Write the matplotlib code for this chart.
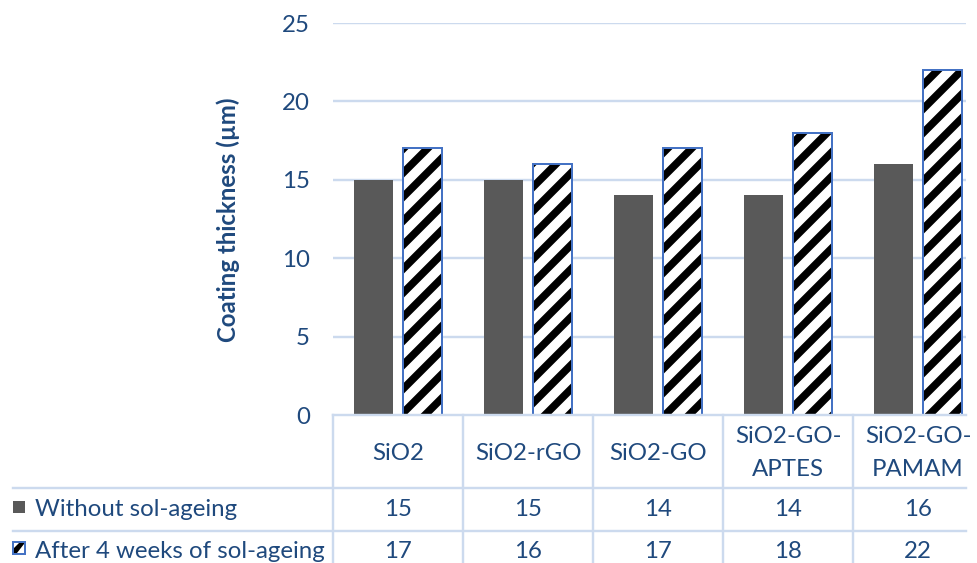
import matplotlib
matplotlib.use("Agg")
import matplotlib.pyplot as plt
from matplotlib.patches import Rectangle, Polygon
from matplotlib.transforms import blended_transform_factory
import numpy as np

categories = ["SiO2", "SiO2-rGO", "SiO2-GO", "SiO2-GO-\nAPTES", "SiO2-GO-\nPAMAM"]
without_ageing = [15, 15, 14, 14, 16]
after_ageing = [17, 16, 17, 18, 22]
series_names = ["Without sol-ageing", "After 4 weeks of sol-ageing"]
yticks = [0, 5, 10, 15, 20, 25]

W, H, DPI = 977, 563, 144
TXT = "#1F497D"
GRID = "#CCDAEE"
DARK = "#595959"
EDGE = "#4472C4"
FS = 12

plt.rcParams["font.family"] = ["Lato", "DejaVu Sans"]
plt.rcParams["hatch.linewidth"] = 3.8

fig = plt.figure(figsize=(W / DPI, H / DPI), dpi=DPI)

def fy(py):
    return 1 - py / H

def fx(px):
    return px / W

# plot area in pixels
L, R, T, B = 333, 983, 23, 415
ax = fig.add_axes([fx(L), fy(B), fx(R - L), (B - T) / H])
ax.set_xlim(-0.5, len(categories) - 0.5)
ax.set_ylim(0, 25)
for s in ax.spines.values():
    s.set_visible(False)

x = np.arange(len(categories))
bw, off = 0.30, 0.19
x_end = -0.5 + (966 - L) / 130.0

ax.hlines(yticks[1:], -0.5, x_end, colors=GRID, linewidth=1.2, zorder=0)
ax.bar(x - off, without_ageing, bw, color=DARK, linewidth=0, zorder=2)
ax.bar(x + off, after_ageing, bw, color="white", edgecolor="black",
       hatch="//", linewidth=0, zorder=2)
ax.bar(x + off, after_ageing, bw, fill=False, edgecolor=EDGE,
       linewidth=1.0, zorder=3)

ax.set_xticks([])
ax.set_yticks(yticks)
ax.tick_params(axis="y", length=0, pad=11.5, labelsize=FS, labelcolor=TXT)

fig.text(fx(228), fy(220), "Coating thickness (µm)", rotation=90,
         ha="center", va="center", color=TXT, fontsize=12, fontweight="bold")

# data table below the plot
tr = blended_transform_factory(ax.transData, fig.transFigure)
line_kw = dict(color=GRID, linewidth=1.2, transform=fig.transFigure, zorder=1)
fig.add_artist(plt.Line2D([fx(L), fx(966)], [fy(415), fy(415)], **line_kw))
for py in (488, 531):
    fig.add_artist(plt.Line2D([fx(13), fx(966)], [fy(py), fy(py)], **line_kw))
for xb in np.arange(-0.5, len(categories) - 0.5, 1.0):
    fig.add_artist(plt.Line2D([xb, xb], [fy(415), 0], color=GRID,
                              linewidth=1.2, transform=tr, zorder=1))

for i, c in enumerate(categories):
    fig.text(x[i], fy(453), c, transform=tr, ha="center", va="center",
             color=TXT, fontsize=FS, linespacing=1.65)
    fig.text(x[i], fy(509), str(without_ageing[i]), transform=tr,
             ha="center", va="center", color=TXT, fontsize=FS)
    fig.text(x[i], fy(551), str(after_ageing[i]), transform=tr,
             ha="center", va="center", color=TXT, fontsize=FS)

# legend keys in the table's row headers
fig.add_artist(Rectangle((fx(13), fy(513)), fx(12), 12 / H, color=DARK,
                         linewidth=0, transform=fig.transFigure))
fig.add_artist(Rectangle((fx(13), fy(554)), fx(12), 12 / H, facecolor="white",
                         linewidth=0, transform=fig.transFigure))
key_band = [(14, 553), (14, 548), (19, 543), (24, 543), (24, 544), (17, 553)]
fig.add_artist(Polygon([(fx(px), fy(py)) for px, py in key_band],
                       closed=True, facecolor="black", linewidth=0,
                       transform=fig.transFigure))
fig.add_artist(Rectangle((fx(13), fy(554)), fx(12), 12 / H, fill=False,
                         edgecolor=EDGE, linewidth=1.0,
                         transform=fig.transFigure))
fig.text(fx(35), fy(509), series_names[0], ha="left", va="center",
         color=TXT, fontsize=FS)
fig.text(fx(35), fy(551), series_names[1], ha="left", va="center",
         color=TXT, fontsize=FS)

fig.savefig("out.png", dpi=DPI)
